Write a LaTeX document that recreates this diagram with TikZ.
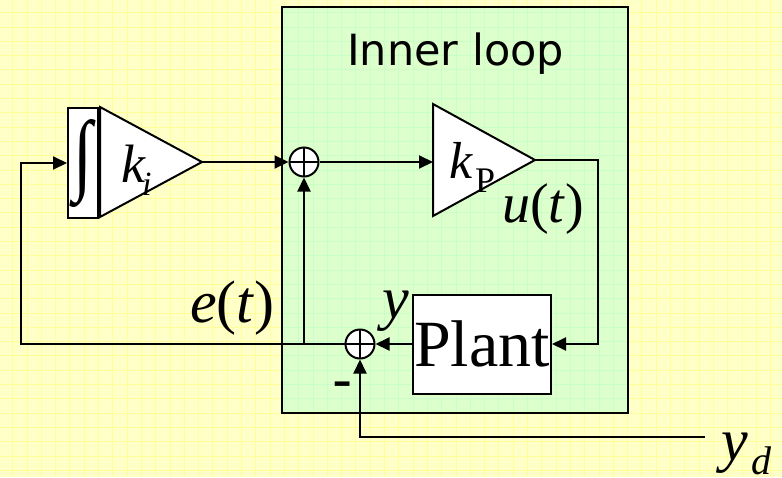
\documentclass[tikz,border=0pt]{standalone}
\usepackage{fontspec}
\setmainfont{Liberation Serif}
\newfontfamily\rotulo{DejaVu Sans}
\usepackage{graphicx}
\usetikzlibrary{arrows.meta,calc,positioning}
\definecolor{fondo}{HTML}{FFFFC8}
\definecolor{rejilla}{HTML}{FFFF99}
\definecolor{lazo}{HTML}{DDFFCC}
\definecolor{rejillalazo}{HTML}{C8FFC8}
\tikzset{
  linea/.style={line width=2pt,draw=black},
  flecha/.style={linea,-{Triangle[length=14pt,width=13pt]}},
  bloque/.style={draw=black,fill=white,line width=2pt,inner sep=0pt},
  sumador/.style={circle,draw=black,fill=white,line width=2pt,minimum size=29pt,inner sep=0pt,
    path picture={\draw[line width=1.5pt] (path picture bounding box.north) -- (path picture bounding box.south)
      (path picture bounding box.west) -- (path picture bounding box.east);}},
  etiq/.style={inner sep=0pt,anchor=base west},
  malla/.style={line width=1pt,step=14.3pt,shift={(12.7,12.7)}},
}

\begin{document}
\begin{tikzpicture}[x=1pt,y=-1pt]
  \useasboundingbox (0,0) rectangle (782,477);
  \fill[fondo] (0,0) rectangle (782,477);
  \draw[rejilla,malla] (-12.7,464.3) grid (769.3,-12.7);
  % lazo interno
  \fill[lazo] (282,7) rectangle (628,413);
  \begin{scope}
    \clip (283,8) rectangle (627,412);
    \draw[rejillalazo,malla] (-12.7,464.3) grid (769.3,-12.7);
  \end{scope}
  \draw[line width=2pt] (282,7) rectangle (628,413);
  \node[etiq,font=\rotulo\fontsize{43}{43}\selectfont] (titulo) at (347,65) {Inner loop};

  % bloques
  \node[bloque,minimum width=30pt,minimum height=110pt] (integ) at (83,163) {\resizebox{19pt}{64pt}{∫}};
  \coordinate (kisal) at (202,162);
  \draw[bloque] (100,107) -- (100,217) -- (kisal) -- cycle;
  \node[etiq,font=\fontsize{54}{54}\selectfont\itshape] (kik) at (121,182) {k};
  \node[etiq,font=\fontsize{34}{34}\selectfont\itshape] (kii) at (142,195) {i};

  \node[sumador] (suma1) at (304,162) {};
  \coordinate (kpent) at (433,162);
  \coordinate (kpsal) at (535,160);
  \draw[bloque] (433,104) -- (433,216) -- (kpsal) -- cycle;
  \node[etiq,font=\fontsize{52}{52}\selectfont\itshape] (kpk) at (449,178) {k};
  \node[etiq,font=\fontsize{36}{36}\selectfont] (kpp) at (475,192) {P};

  \node[bloque,minimum width=138pt,minimum height=99pt] (planta) at (482,344) {\fontsize{66}{66}\selectfont Plant};
  \node[sumador] (suma2) at (360,344) {};

  \coordinate (codo) at (598,160);
  \coordinate (retorno) at (21,344);
  \coordinate (deriv) at (suma1 |- suma2);
  \coordinate (ydent) at (705,437);

  % conexiones
  \draw[flecha] (kisal) -- (suma1);
  \draw[flecha] (suma1) -- (kpent);
  \draw[flecha] (kpsal) -- (codo) |- (planta);
  \draw[flecha] (planta) -- (suma2);
  \draw[flecha] (suma2) -- (retorno) |- (integ);
  \draw[flecha] (deriv) -- (suma1);
  \draw[flecha] (ydent) -| (suma2);

  % senales
  \node[etiq,font=\fontsize{56}{56}\selectfont] (usenal) at (502,222) {\textit{u}(\textit{t})};
  \node[etiq,font=\fontsize{60}{60}\selectfont] (esenal) at (190,322) {\textit{e}(\textit{t})};
  \node[etiq,font=\fontsize{60}{60}\selectfont\itshape] (ysenal) at (382,318) {y};
  \node[etiq,font=\fontsize{60}{60}\selectfont\itshape] (ydy) at (721,460) {y};
  \node[etiq,font=\fontsize{40}{40}\selectfont\itshape] (ydd) at (751,474) {d};
  \node[etiq,font=\rotulo\fontsize{56}{56}\selectfont] (menos) at (332,399) {-};
\end{tikzpicture}
\end{document}
